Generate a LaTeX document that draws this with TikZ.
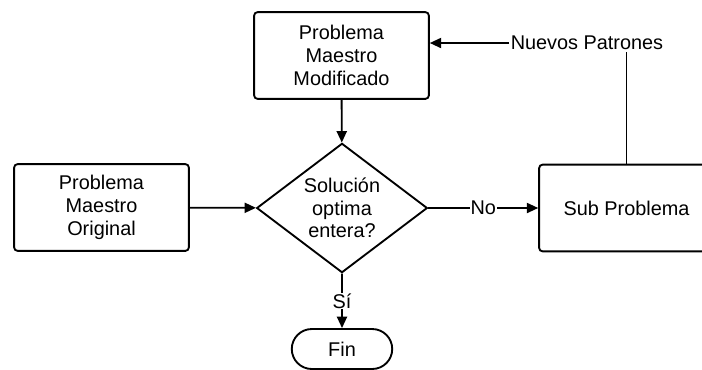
\documentclass[tikz,border=0pt]{standalone}
\usepackage{fontspec}
\setmainfont{Liberation Sans}
\usetikzlibrary{shapes.geometric,shapes.misc,arrows.meta}

\begin{document}
\begin{tikzpicture}[x=0.75pt, y=-0.75pt, line width=1.4pt,
  every node/.style={font=\fontsize{14.9}{17}\selectfont, align=center},
  caja/.style={draw, rectangle, rounded corners=2.5pt, minimum width=131pt, minimum height=65pt},
  rombo/.style={draw, diamond, aspect=1.33, inner sep=0pt, minimum width=128pt, minimum height=97pt},
  fin/.style={draw, rounded rectangle, minimum width=82pt, minimum height=30pt},
  etq/.style={fill=white, inner sep=0.5pt},
  flecha/.style={-{Triangle[length=8.5pt,width=7.5pt]}}]
  \useasboundingbox (0,0) rectangle (702,369);
  \clip (0,0) rectangle (702,369);
  \node[caja] (pmm) at (341.5, 55.5) {Problema\\Maestro\\Modificado};
  \node[caja] (pmo) at (101.5, 207.5) {Problema\\Maestro\\Original};
  \node[rombo] (sol) at (342, 208) {Solución\\optima\\entera?};
  \node[caja] (sub) at (626.5, 208) {Sub Problema};
  \node[fin] (fin) at (342, 349) {Fin};
  \node[etq] (np) at (587, 43) {Nuevos Patrones};
  \draw[flecha] (pmm) -- (sol);
  \draw[flecha] (pmo) -- (sol);
  \draw[flecha] (sol) -- node[etq] {No} (sub);
  \draw[flecha] (sol) -- node[etq] {Sí} (fin);
  \draw (sub.north) -- (sub.north |- np.south);
  \draw[flecha] (np.west) -- (np.west -| pmm.east);
\end{tikzpicture}
\end{document}
